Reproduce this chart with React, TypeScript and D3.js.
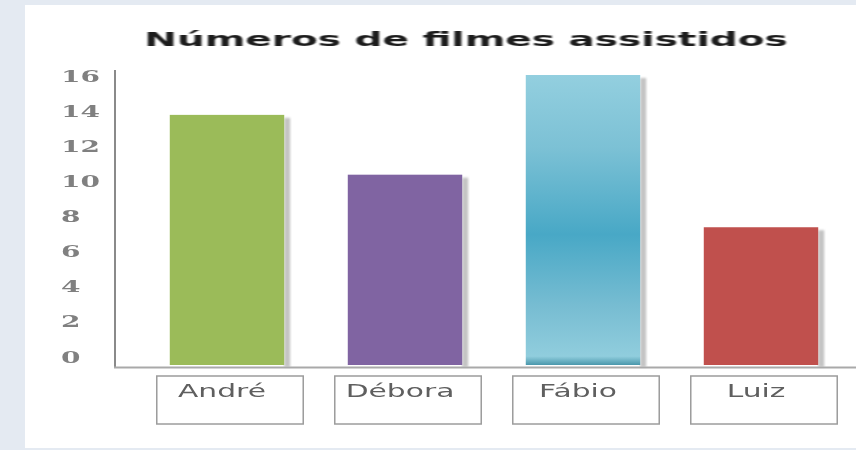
import React from "react";
import * as d3 from "d3";

const categories = ["André", "Débora", "Fábio", "Luiz"];
const values = [13.8, 10.5, 16, 7.6];
const yTicks = [0, 2, 4, 6, 8, 10, 12, 14, 16];
const title = "Números de filmes assistidos";
const barColors = ["#9bbb59", "#8064a2", "url(#fabioGrad)", "#c0504d"];

const W = 856;
const H = 450;

export default function App() {
  const x = d3.scaleBand<string>().domain(categories).range([138, 850]).paddingInner(0.357).paddingOuter(0.1785);
  const y = d3.scaleLinear().domain([0, 16]).range([365, 75]);
  const yLab = d3.scaleLinear().domain([0, 16]).range([356, 75]);
  const bw = x.bandwidth();

  return (
    <div style={{ position: "fixed", left: 0, top: 0 }}>
      <svg width={W} height={H} style={{ display: "block" }}>
        <defs>
          <linearGradient id="fabioGrad" x1="0" y1="0" x2="0" y2="1">
            <stop offset="0%" stopColor="#93cfdf" />
            <stop offset="25%" stopColor="#7cc1d5" />
            <stop offset="55%" stopColor="#48a8c6" />
            <stop offset="80%" stopColor="#78bdd2" />
            <stop offset="97%" stopColor="#90cddd" />
            <stop offset="100%" stopColor="#4a97ab" />
          </linearGradient>
          <filter id="blur1" x="-20%" y="-5%" width="140%" height="110%">
            <feGaussianBlur stdDeviation="1.2" />
          </filter>
          <filter id="blurT" x="-5%" y="-20%" width="110%" height="140%">
            <feGaussianBlur stdDeviation="0.45" />
          </filter>
        </defs>
        <rect x={0} y={0} width={W} height={H} fill="#e4eaf2" />
        <rect x={25} y={5} width={W - 25} height={H - 7} fill="#ffffff" />

        {/* title */}
        <text
          transform={`translate(466,46) scale(1.95,1)`}
          textAnchor="middle"
          fontFamily="DejaVu Sans"
          fontWeight="bold"
          fontSize={20}
          fill="#1e1e1e"
          filter="url(#blurT)"
        >
          {title}
        </text>

        {/* y tick labels */}
        {yTicks.map((t) => (
          <text
            key={t}
            transform={`translate(61,${yLab(t) + 6.5}) scale(1.65,1)`}
            textAnchor="start"
            fontFamily="DejaVu Serif"
            fontWeight="bold"
            fontSize={17}
            fill="#808080"
            filter="url(#blurT)"
          >
            {t}
          </text>
        ))}

        {/* bar shadows */}
        {categories.map((c, i) => (
          <rect
            key={"s" + c}
            x={(x(c) as number) + bw}
            y={y(values[i]) + 3}
            width={6}
            height={y(0) - y(values[i]) - 1}
            fill="#c4c4c4"
            filter="url(#blur1)"
          />
        ))}

        {/* bars */}
        {categories.map((c, i) => (
          <rect
            key={c}
            x={x(c) as number}
            y={y(values[i])}
            width={bw}
            height={y(0) - y(values[i])}
            fill={barColors[i]}
          />
        ))}

        {/* axes */}
        <line x1={115} x2={115} y1={70} y2={367} stroke="#8a8a8a" strokeWidth={2} />
        <line x1={114} x2={W} y1={367.5} y2={367.5} stroke="#a9a9a9" strokeWidth={1.8} />

        {/* category label boxes */}
        {categories.map((c) => {
          const cx = (x(c) as number) + bw / 2 + 3;
          const boxW = bw + 32;
          return (
            <g key={"b" + c}>
              <rect x={cx - boxW / 2} y={376} width={boxW} height={48} fill="#ffffff" stroke="#9c9c9c" strokeWidth={1.5} />
              <text
                transform={`translate(${cx - 8},397) scale(1.75,1)`}
                textAnchor="middle"
                fontFamily="DejaVu Sans"
                fontSize={17}
                fill="#5e5e5e"
                filter="url(#blurT)"
              >
                {c}
              </text>
            </g>
          );
        })}
      </svg>
    </div>
  );
}
